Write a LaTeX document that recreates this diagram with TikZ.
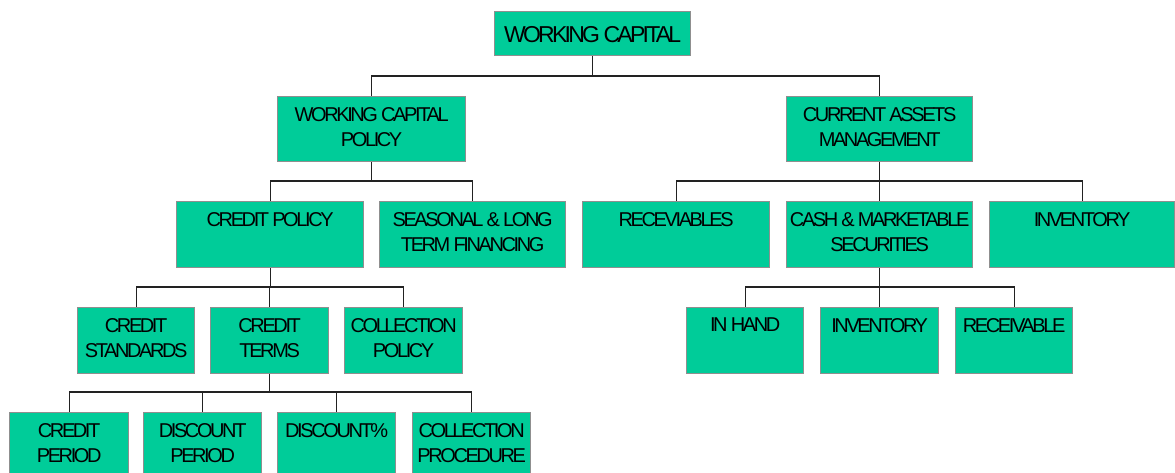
\documentclass[tikz,border=0pt]{standalone}
\usepackage{fontspec}
\setmainfont{Liberation Sans}[LetterSpace=-12]
\definecolor{boxfill}{HTML}{00CC99}
\definecolor{boxline}{HTML}{8F8F8F}
\definecolor{wire}{HTML}{222222}
\tikzset{
  box/.style={draw=boxline, line width=1.3pt, fill=boxfill, inner sep=0pt, anchor=north west},
  lbl/.style={inner sep=0pt, align=center, anchor=north, font=\fontsize{20}{25}\selectfont},
  toplbl/.style={lbl, font=\fontsize{23}{28}\selectfont},
  link/.style={draw=wire, line width=1.3pt},
}
% \orgbox{name}{left}{top}{right}{bottom}{text}
\newcommand\orgbox[6]{%
  \node[box, minimum width={#4-#2}, minimum height={#5-#3}] (#1) at (#2,#3) {};
  \node[lbl] (#1-t) at ([yshift=-11pt]#1.north) {#6};}
% \branch{parent}{child}{bus y}
\newcommand\branch[3]{%
  \draw[link] (#1.south) |- (#2.north |- 0,#3) -- (#2.north);}
\begin{document}
\begin{tikzpicture}[x=1pt, y=-1pt]
  \useasboundingbox (0,0) rectangle (1175,472);
  \clip (0,0) rectangle (1175,472);

  % root
  \node[box, minimum width=196, minimum height=44] (wc) at (494,11) {};
  \node[toplbl] (wc-t) at ([yshift=-15pt]wc.north) {WORKING CAPITAL};

  % second level
  \orgbox{wcp}{277}{96}{465}{161}{WORKING CAPITAL\\POLICY}
  \orgbox{cam}{786}{96}{972}{161}{CURRENT ASSETS\\MANAGEMENT}

  % third level
  \orgbox{cp}{176}{201}{363}{267}{CREDIT POLICY}
  \orgbox{sea}{379}{201}{565}{267}{SEASONAL \& LONG\\TERM FINANCING}
  \orgbox{rec}{582}{201}{769}{267}{RECEVIABLES}
  \orgbox{cash}{786}{201}{972}{267}{CASH \& MARKETABLE\\SECURITIES}
  \orgbox{inv}{989}{201}{1174}{267}{INVENTORY}

  % fourth level
  \orgbox{cs}{77}{307}{194}{373}{CREDIT\\STANDARDS}
  \orgbox{ct}{210}{307}{328}{373}{CREDIT\\TERMS}
  \orgbox{colp}{344}{307}{462}{373}{COLLECTION\\POLICY}
  \orgbox{hand}{686}{307}{803}{373}{IN HAND}
  \orgbox{inv2}{820}{307}{938}{373}{INVENTORY}
  \orgbox{recv}{955}{307}{1072}{373}{RECEIVABLE}

  % fifth level
  \orgbox{cper}{9}{412}{128}{478}{CREDIT\\PERIOD}
  \orgbox{dper}{143}{412}{261}{478}{DISCOUNT\\PERIOD}
  \orgbox{dpct}{277}{412}{395}{478}{DISCOUNT\%}
  \orgbox{proc}{412}{412}{530}{478}{COLLECTION\\PROCEDURE}

  % connectors
  \branch{wc}{wcp}{76}
  \branch{wc}{cam}{76}
  \branch{wcp}{cp}{181}
  \branch{wcp}{sea}{181}
  \branch{cam}{rec}{181}
  \branch{cam}{cash}{181}
  \branch{cam}{inv}{181}
  \branch{cp}{cs}{287}
  \branch{cp}{ct}{287}
  \branch{cp}{colp}{287}
  \branch{cash}{hand}{287}
  \branch{cash}{inv2}{287}
  \branch{cash}{recv}{287}
  \branch{ct}{cper}{392}
  \branch{ct}{dper}{392}
  \branch{ct}{dpct}{392}
  \branch{ct}{proc}{392}
\end{tikzpicture}
\end{document}
